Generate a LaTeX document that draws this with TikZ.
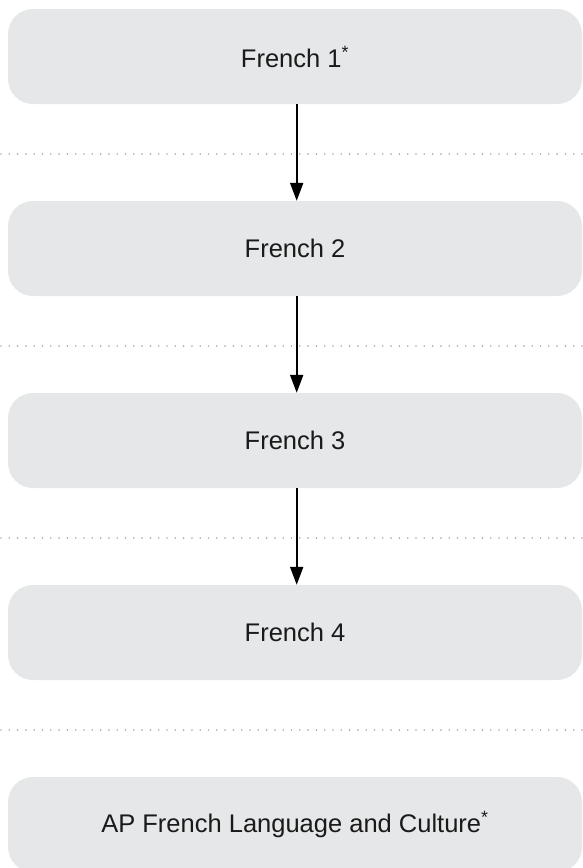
\documentclass[tikz,border=0pt]{standalone}
\usepackage{fontspec}
\setmainfont{Liberation Sans}
\usetikzlibrary{arrows.meta,positioning}
\definecolor{boxgray}{HTML}{E6E7E8}
\definecolor{dotgray}{HTML}{A7A9AC}
\definecolor{ink}{HTML}{1A1A1A}
\begin{document}
\begin{tikzpicture}[x=1pt, y=-1pt,
      course/.style={fill=boxgray, rounded corners=25pt, minimum width=574pt,
                     minimum height=95pt, inner sep=0pt, text=ink,
                     font=\fontsize{25.5}{30}\selectfont},
      nextlevel/.style={line width=2pt, -{Triangle[length=18pt, width=13pt]}},
      gap/.style={dotgray, line width=1.8pt, line cap=round,
                  dash pattern=on 0pt off 8.3pt}]
      \useasboundingbox (0, 0) rectangle (582, 868);
      \draw[gap] (1, 154) -- (582, 154)
                 (1, 346) -- (582, 346)
                 (1, 538) -- (582, 538)
                 (1, 730) -- (582, 730);
      \node[course] (f1) at (295, 56.5) {French 1\textsuperscript{*}};
      \node[course] (f2) at (295, 248.5) {French 2};
      \node[course] (f3) at (295, 440.5) {French 3};
      \node[course] (f4) at (295, 632.5) {French 4};
      \node[course] (ap) at (295, 824.5) {AP French Language and Culture\textsuperscript{*}};
      \draw[nextlevel] ([xshift=1.7pt]f1.south) -- ([xshift=1.7pt]f2.north);
      \draw[nextlevel] ([xshift=1.7pt]f2.south) -- ([xshift=1.7pt]f3.north);
      \draw[nextlevel] ([xshift=1.7pt]f3.south) -- ([xshift=1.7pt]f4.north);
\end{tikzpicture}
\end{document}
